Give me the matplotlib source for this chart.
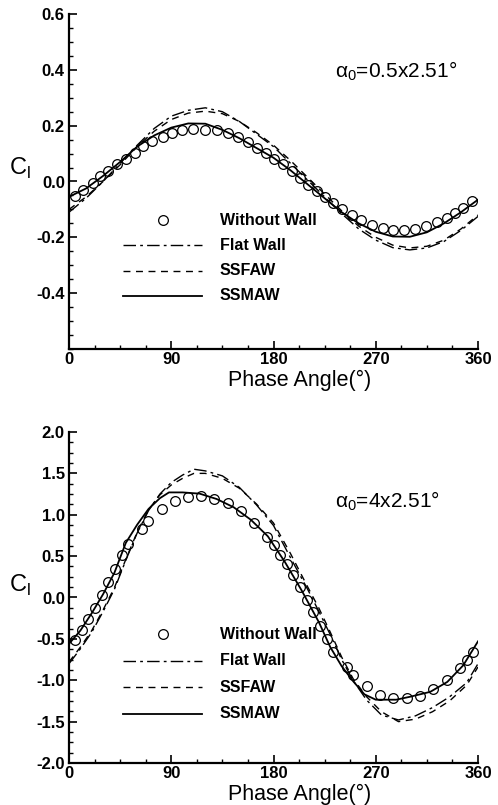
import matplotlib
matplotlib.use("Agg")
import matplotlib.pyplot as plt
from matplotlib.ticker import MultipleLocator

plt.rcParams['font.family'] = ['Liberation Sans', 'DejaVu Sans']

# ---------------- Top panel (alpha0 = 0.5 x 2.51 deg) ----------------
top_exp_phase = [5.3, 12.6, 20.8, 27.0, 34.6, 42.0, 50.0, 58.0, 65.4, 73.3, 82.5, 90.4,
                 99.7, 109.4, 119.7, 130.0, 139.7, 149.0, 157.8, 165.2, 173.0, 180.7,
                 188.7, 196.0, 203.3, 210.7, 218.0, 225.4, 232.7, 240.0, 248.8, 257.0,
                 266.5, 276.0, 285.5, 295.0, 304.6, 314.3, 323.6, 332.5, 339.8, 347.0, 354.5]
top_exp_cl = [-0.053, -0.032, -0.005, 0.018, 0.037, 0.061, 0.081, 0.103, 0.127, 0.144, 0.160, 0.172,
              0.183, 0.189, 0.186, 0.183, 0.172, 0.160, 0.141, 0.120, 0.103, 0.081,
              0.061, 0.037, 0.013, -0.011, -0.035, -0.055, -0.076, -0.098, -0.121, -0.139,
              -0.157, -0.168, -0.175, -0.175, -0.170, -0.160, -0.146, -0.130, -0.112, -0.094, -0.071]

top_phase = [0, 15, 30, 45, 60, 75, 90, 105, 120, 135, 150, 165, 180, 195, 210, 225,
             240, 255, 270, 285, 300, 315, 330, 345, 360]
top_flat = [-0.11, -0.06, 0.0, 0.065, 0.13, 0.19, 0.234, 0.255, 0.264, 0.25, 0.215, 0.17,
            0.125, 0.065, 0.005, -0.055, -0.115, -0.17, -0.21, -0.237, -0.245, -0.238,
            -0.215, -0.175, -0.125]
top_ssfaw = [-0.10, -0.055, 0.0, 0.06, 0.125, 0.18, 0.222, 0.245, 0.252, 0.243, 0.215, 0.175,
             0.13, 0.075, 0.015, -0.045, -0.105, -0.16, -0.20, -0.228, -0.238, -0.232,
             -0.21, -0.17, -0.12]
top_ssmaw = [-0.055, -0.025, 0.02, 0.07, 0.125, 0.165, 0.193, 0.208, 0.207, 0.185, 0.155, 0.12,
             0.085, 0.04, -0.01, -0.06, -0.11, -0.15, -0.18, -0.197, -0.198, -0.182,
             -0.15, -0.11, -0.065]

# ---------------- Bottom panel (alpha0 = 4 x 2.51 deg) ----------------
bot_exp_phase = [5.3, 11.2, 17.0, 22.9, 28.7, 34.6, 40.5, 46.4, 52.2, 64.0, 69.8, 81.6, 93.3,
                 104.5, 116.2, 127.9, 139.7, 151.1, 162.9, 174.0, 180.5, 185.7, 191.6, 197.5,
                 203.3, 209.2, 215.0, 221.0, 226.8, 232.7, 244.4, 250.3, 262.0, 273.7, 285.5,
                 297.2, 309.0, 320.7, 332.5, 344.2, 350.0, 355.9]
bot_exp_cl = [-0.51, -0.39, -0.26, -0.125, 0.033, 0.185, 0.347, 0.508, 0.649, 0.83, 0.93, 1.07, 1.17,
              1.21, 1.23, 1.19, 1.14, 1.04, 0.90, 0.73, 0.63, 0.51, 0.40, 0.266,
              0.125, -0.036, -0.177, -0.346, -0.50, -0.653, -0.84, -0.94, -1.075, -1.176, -1.217,
              -1.217, -1.185, -1.10, -1.00, -0.85, -0.76, -0.66]

bot_line_phase = [0, 10, 20, 30, 40, 50, 60, 70, 80, 90, 100, 110, 120, 135, 150, 165, 180,
                  195, 210, 220, 230, 240, 250, 262, 275, 290, 305, 320, 335, 350, 360]
bot_flat = [-0.80, -0.62, -0.42, -0.17, 0.10, 0.45, 0.78, 1.05, 1.25, 1.39, 1.48, 1.55, 1.53,
            1.47, 1.33, 1.12, 0.87, 0.48, 0.10, -0.17, -0.45, -0.75, -1.00, -1.24, -1.42,
            -1.48, -1.43, -1.33, -1.20, -1.03, -0.80]
bot_ssfaw = [-0.78, -0.60, -0.40, -0.15, 0.12, 0.46, 0.79, 1.06, 1.24, 1.36, 1.44, 1.50, 1.50,
             1.44, 1.32, 1.13, 0.90, 0.53, 0.13, -0.13, -0.42, -0.72, -0.98, -1.20, -1.38,
             -1.50, -1.47, -1.38, -1.25, -1.06, -0.84]

bot_ssmaw_phase = [0, 10, 20, 30, 40, 50, 60, 70, 80, 88, 100, 115, 130, 145, 160, 175, 190,
                   205, 220, 230, 240, 250, 260, 270, 288, 300, 318, 333, 347, 360]
bot_ssmaw = [-0.56, -0.40, -0.19, 0.04, 0.30, 0.66, 0.88, 1.07, 1.20, 1.27, 1.27, 1.255, 1.19,
             1.09, 0.94, 0.74, 0.43, 0.08, -0.30, -0.60, -0.83, -1.01, -1.17, -1.235, -1.235,
             -1.20, -1.14, -1.02, -0.82, -0.53]

legend_labels = ["Without Wall", "Flat Wall", "SSFAW", "SSMAW"]
xticks = [0, 90, 180, 270, 360]

W, H = 498, 805
fig = plt.figure(figsize=(W / 100, H / 100), dpi=100)

def px_axes(left, top, right, bottom):
    return fig.add_axes([left / W, 1 - bottom / H, (right - left) / W, (bottom - top) / H])

ax1 = px_axes(69, 14, 478, 349)
ax2 = px_axes(69, 432, 478, 763)

flat_style = dict(color='black', lw=1.0, dashes=(9, 3, 2, 3))
ssfaw_style = dict(color='black', lw=1.0, dashes=(5, 4))
ssmaw_style = dict(color='black', lw=1.3)
circ_style = dict(marker='o', ms=7, mfc='none', mec='black', mew=0.9, ls='none')

def draw(ax, ep, ec, lp, fl, sf, mp, sm):
    ax.plot(ep, ec, **circ_style)
    ax.plot(lp, fl, **flat_style)
    ax.plot(lp, sf, **ssfaw_style)
    ax.plot(mp, sm, **ssmaw_style)

draw(ax1, top_exp_phase, top_exp_cl, top_phase, top_flat, top_ssfaw, top_phase, top_ssmaw)
draw(ax2, bot_exp_phase, bot_exp_cl, bot_line_phase, bot_flat, bot_ssfaw, bot_ssmaw_phase, bot_ssmaw)

def style(ax, ylim, yticks, yminor, ylabels):
    ax.set_xlim(0, 360)
    ax.set_ylim(*ylim)
    ax.set_xticks(xticks)
    ax.set_xticklabels([str(v) for v in xticks])
    ax.xaxis.set_minor_locator(MultipleLocator(22.5))
    ax.set_yticks(yticks)
    ax.set_yticklabels(ylabels)
    ax.yaxis.set_minor_locator(MultipleLocator(yminor))
    for s in ['top', 'right']:
        ax.spines[s].set_visible(False)
    for s in ['left', 'bottom']:
        ax.spines[s].set_linewidth(1.6)
    ax.tick_params(which='major', direction='in', length=6, width=1.2,
                   labelsize=12, pad=3)
    ax.tick_params(axis='x', which='major', pad=2)
    ax.tick_params(which='minor', direction='in', length=3, width=1.0)
    for lab in ax.get_xticklabels() + ax.get_yticklabels():
        lab.set_fontweight('bold')
    ax.set_xlabel('Phase Angle(°)', fontsize=15.5)
    ax.set_ylabel(r'C$_\mathregular{l}$', fontsize=17, rotation=0)

top_yt = [-0.4, -0.2, 0.0, 0.2, 0.4, 0.6]
style(ax1, (-0.6, 0.6), top_yt, 0.05, ['%.1f' % v for v in top_yt])
ax1.yaxis.set_label_coords(-0.12, 0.5)
ax1.xaxis.set_label_coords(0.565, -0.062)

bot_yt = [-2.0, -1.5, -1.0, -0.5, 0.0, 0.5, 1.0, 1.5, 2.0]
style(ax2, (-2.0, 2.0), bot_yt, 0.125, ['%.1f' % v for v in bot_yt])
ax2.yaxis.set_label_coords(-0.12, 0.5)
ax2.xaxis.set_label_coords(0.565, -0.063)

# annotations
ax1.text(0.650, 0.83, r'$\mathregular{\alpha_0}$=0.5x2.51°', transform=ax1.transAxes,
         fontsize=15, ha='left', va='center')
ax2.text(0.650, 0.79, r'$\mathregular{\alpha_0}$=4x2.51°', transform=ax2.transAxes,
         fontsize=15, ha='left', va='center')

# legends (placed at pixel positions)
def legend(ax, y0, dy):
    x_line0, x_line1, x_mark, x_text = 123, 202, 163, 220
    bb = ax.get_position()
    def to_ax(xp, yp):
        fx = (xp / W - bb.x0) / bb.width
        fy = ((1 - yp / H) - bb.y0) / bb.height
        return fx, fy
    styles = [None, flat_style, ssfaw_style, ssmaw_style]
    for i, lab in enumerate(legend_labels):
        yp = y0 + i * dy
        fx0, fy = to_ax(x_line0, yp)
        fx1, _ = to_ax(x_line1, yp)
        fxm, _ = to_ax(x_mark, yp)
        fxt, _ = to_ax(x_text, yp)
        if i == 0:
            ax.plot([fxm], [fy], transform=ax.transAxes, **circ_style)
        else:
            ax.plot([fx0, fx1], [fy, fy], transform=ax.transAxes, **styles[i])
        ax.text(fxt, fy, lab, transform=ax.transAxes, fontsize=11.5,
                fontweight='bold', ha='left', va='center')

legend(ax1, 220, 25.3)
legend(ax2, 634, 26.5)

fig.savefig('out.png', dpi=100)
